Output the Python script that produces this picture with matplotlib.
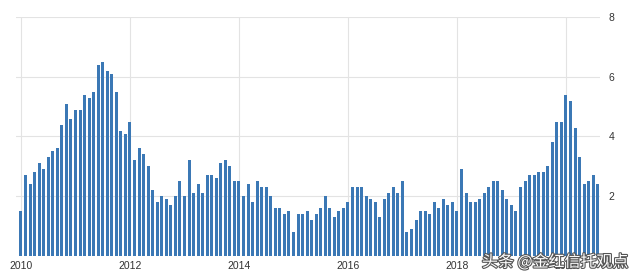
import matplotlib
matplotlib.use('Agg')
from matplotlib import pyplot as plt
import matplotlib.patheffects as pe

# China CPI YoY, monthly Jan 2010 - Aug 2020
cpi_2010 = [1.5, 2.7, 2.4, 2.8, 3.1, 2.9, 3.3, 3.5, 3.6, 4.4, 5.1, 4.6]
cpi_2011 = [4.9, 4.9, 5.4, 5.3, 5.5, 6.4, 6.5, 6.2, 6.1, 5.5, 4.2, 4.1]
cpi_2012 = [4.5, 3.2, 3.6, 3.4, 3.0, 2.2, 1.8, 2.0, 1.9, 1.7, 2.0, 2.5]
cpi_2013 = [2.0, 3.2, 2.1, 2.4, 2.1, 2.7, 2.7, 2.6, 3.1, 3.2, 3.0, 2.5]
cpi_2014 = [2.5, 2.0, 2.4, 1.8, 2.5, 2.3, 2.3, 2.0, 1.6, 1.6, 1.4, 1.5]
cpi_2015 = [0.8, 1.4, 1.4, 1.5, 1.2, 1.4, 1.6, 2.0, 1.6, 1.3, 1.5, 1.6]
cpi_2016 = [1.8, 2.3, 2.3, 2.3, 2.0, 1.9, 1.8, 1.3, 1.9, 2.1, 2.3, 2.1]
cpi_2017 = [2.5, 0.8, 0.9, 1.2, 1.5, 1.5, 1.4, 1.8, 1.6, 1.9, 1.7, 1.8]
cpi_2018 = [1.5, 2.9, 2.1, 1.8, 1.8, 1.9, 2.1, 2.3, 2.5, 2.5, 2.2, 1.9]
cpi_2019 = [1.7, 1.5, 2.3, 2.5, 2.7, 2.7, 2.8, 2.8, 3.0, 3.8, 4.5, 4.5]
cpi_2020 = [5.4, 5.2, 4.3, 3.3, 2.4, 2.5, 2.7, 2.4]

values = (cpi_2010 + cpi_2011 + cpi_2012 + cpi_2013 + cpi_2014 + cpi_2015
          + cpi_2016 + cpi_2017 + cpi_2018 + cpi_2019 + cpi_2020)
year_labels = ['2010', '2012', '2014', '2016', '2018', '2020']
y_ticks = [2, 4, 6, 8]

fig = plt.figure(figsize=(6.4, 2.78), dpi=100)
ax = fig.add_axes([0.025, 0.079, 0.9125, 0.86])

months = list(range(len(values)))
ax.bar(months, values, width=0.66, color='#3b78b5', zorder=2)

ax.set_xlim(-1.1, 127.5)
ax.set_ylim(0, 8)

ax.set_xticks([i * 24 for i in range(len(year_labels))])
ax.set_xticklabels(year_labels)
ax.set_yticks(y_ticks)
ax.yaxis.tick_right()
ax.tick_params(axis='both', length=0, labelsize=7.5, labelcolor='#333333')
ax.tick_params(axis='y', pad=6)
for lbl in ax.get_xticklabels() + ax.get_yticklabels():
    lbl.set_family('Liberation Sans')

ax.grid(True, color='#e3e3e3', linewidth=0.8, zorder=0)
for s in ax.spines.values():
    s.set_visible(False)

# watermark (sits over the 2020 label, as in the original)
fig.text(0.753, 0.057, '头条 @金红信托观点', fontsize=11.5, color='white',
         family=['Noto Sans CJK SC', 'DejaVu Sans'], va='center', ha='left',
         path_effects=[pe.withStroke(linewidth=1.6, foreground='#555555')], zorder=10)

fig.savefig('out.png', dpi=100)
